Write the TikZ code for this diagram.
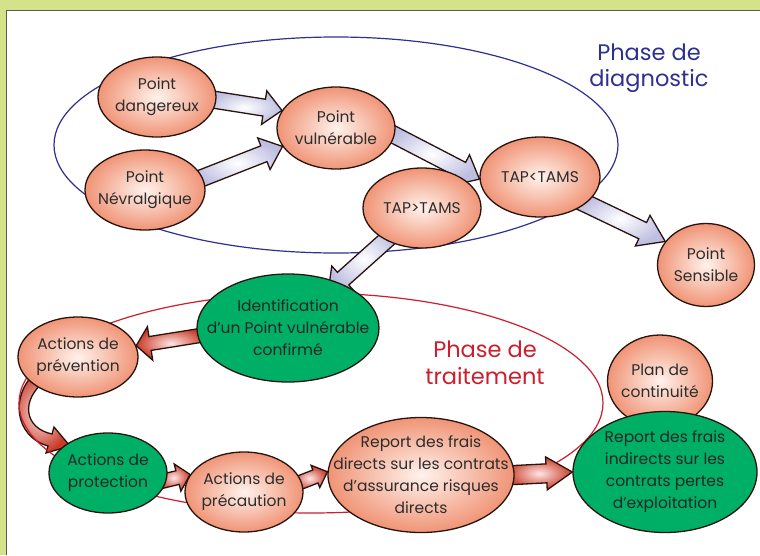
\documentclass[tikz,border=0pt]{standalone}
\usepackage{fontspec}
\setmainfont{Poppins}
\usetikzlibrary{calc,shapes.geometric}
\definecolor{frameg}{RGB}{212,226,138}
\definecolor{frameline}{RGB}{90,92,80}
\definecolor{salmon}{RGB}{240,148,118}
\definecolor{salmonin}{RGB}{255,242,236}
\definecolor{greenn}{RGB}{0,175,102}
\definecolor{outl}{RGB}{40,20,15}
\definecolor{txt}{RGB}{45,45,45}
\definecolor{lav}{RGB}{190,190,225}
\definecolor{redar}{RGB}{200,60,40}
\definecolor{phblue}{RGB}{46,49,146}
\definecolor{phred}{RGB}{205,30,45}
\pgfdeclarelayer{bg}\pgfdeclarelayer{arr}
\pgfsetlayers{bg,arr,main}
\tikzset{
  sz/.style 2 args={minimum width=#1pt, minimum height=#2pt},
  base/.style={ellipse, draw=outl, line width=1.3pt, inner sep=0pt},
  pink/.style={base, inner color=salmonin, outer color=salmon},
  grn/.style={base, fill=greenn},
  lbl/.style={align=center, text=txt, inner sep=0pt, font=\fontsize{15.5}{22}\selectfont},
  lblg/.style={lbl, text=black!85},
  lavarr/.style={draw=outl, line width=1.3pt, inner color=white, outer color=lav},
  redarr/.style={draw=outl, line width=1.3pt, inner color=white!90!red, outer color=redar},
  phase/.style={align=center, font=\fontsize{22.5}{26.5}\selectfont},
}
\newcommand\blockarr[6]{%
  \coordinate (ba-t) at (#3);
  \coordinate (ba-s) at ($(#2)!-8pt!(ba-t)$);
  \coordinate (ba-h) at ($(ba-t)!#6!(ba-s)$);
  \path[#1] ($(ba-s)!#4!90:(ba-t)$) -- ($(ba-h)!#4!-90:(ba-s)$) -- ($(ba-h)!#5!-90:(ba-s)$) -- (ba-t) -- ($(ba-h)!#5!90:(ba-s)$) -- ($(ba-h)!#4!90:(ba-s)$) -- ($(ba-s)!#4!-90:(ba-t)$) -- cycle;
}
\begin{document}
\begin{tikzpicture}[x=1pt,y=-1pt]
\useasboundingbox (0,0) rectangle (760,555);
\begin{pgfonlayer}{bg}
\fill[frameg] (0,0) rectangle (760,555);
\fill[white] (7,11) rectangle (760,555);
\draw[frameline, line width=1.5pt] (6.5,555) -- (6.5,10.5) -- (760,10.5);
\end{pgfonlayer}

% nodes
\node[pink, sz={118}{80}, label={[lbl]center:{Point\\dangereux}}] (dang) at (157,97) {};
\node[pink, sz={120}{80}, label={[lbl]center:{Point\\Névralgique}}] (nevr) at (145,190) {};
\node[pink, sz={118}{82}, label={[lbl]center:{Point\\vulnérable}}] (vul) at (336,128) {};
\node[pink, sz={120}{80}, label={[lbl]center:{TAP<TAMS}}] (taplt) at (540,177) {};
\node[pink, sz={118}{80}, label={[lbl]center:{TAP>TAMS}}] (tapgt) at (422,208) {};
\node[pink, sz={97}{83}, label={[lbl]center:{Point\\Sensible}}] (sens) at (706,265) {};
\node[grn, sz={182}{108}, label={[lblg]center:{Identification\\d’un Point vulnérable\\confirmé}}] (ident) at (288,328) {};
\node[pink, sz={120}{80}, label={[lbl]center:{Actions de\\prévention}}] (prev) at (78,357) {};
\node[grn, sz={118}{80}, label={[lblg]center:{Actions de\\protection}}] (prot) at (108,473) {};
\node[pink, sz={118}{80}, label={[lbl]center:{Actions de\\précaution}}] (prec) at (244,492) {};
\node[pink, sz={186}{115}, label={[lbl]center:{Report des frais\\directs sur les contrats\\d’assurance risques\\directs}}] (rdir) at (421,475) {};
\node[pink, sz={105}{92}, label={[lbl]center:{Plan de\\continuité}}] (plan) at (660,381) {};
\node[grn, sz={184}{121}, label={[lblg]center:{Report des frais\\indirects sur les\\contrats pertes\\d’exploitation}}] (rind) at (665,472) {};

% phases
\begin{pgfonlayer}{bg}
\path[redarr] (36,372) .. controls (10,395) and (14,436) .. (48,446) -- (46,453) -- (70,446) -- (54,427) -- (52,434) .. controls (24,428) and (20,400) .. (46,380) -- cycle;
\draw[phblue, line width=1.2pt] (336,145) ellipse [x radius=282pt, y radius=108pt];
\draw[phred, line width=1.2pt] (311,403) ellipse [x radius=292pt, y radius=110pt];
\node[phase, text=phblue] (tdiag) at (649,68) {Phase de\\diagnostic};
\node[phase, text=phred] (ttrait) at (485,363) {Phase de\\traitement};
\end{pgfonlayer}

% arrows
\begin{pgfonlayer}{arr}
\blockarr{lavarr}{dang.-3}{vul.162}{8.5pt}{17pt}{18pt}
\blockarr{lavarr}{nevr.12}{vul.199}{8.5pt}{17pt}{20pt}
\blockarr{lavarr}{vul.-7}{taplt.182}{8.5pt}{17pt}{20pt}
\blockarr{lavarr}{taplt.-30}{sens.150}{9pt}{17pt}{25pt}
\blockarr{lavarr}{$(tapgt)!0.25!(ident)$}{$(tapgt)!0.7!(ident)$}{8.5pt}{17pt}{20pt}
\blockarr{redarr}{ident.185}{prev.11}{7pt}{17pt}{14pt}
\blockarr{redarr}{prot.-7}{prec.162}{7pt}{14pt}{13pt}
\blockarr{redarr}{prec.10}{rdir.178}{7pt}{12pt}{13pt}
\blockarr{redarr}{rdir.0}{rind.180}{9.5pt}{16.5pt}{26pt}
\end{pgfonlayer}
\end{tikzpicture}
\end{document}
